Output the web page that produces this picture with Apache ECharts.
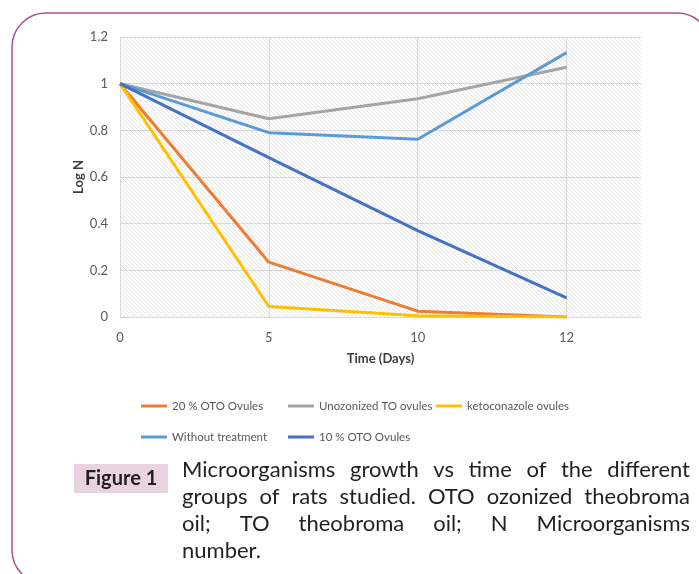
<!DOCTYPE html>
<html><head><meta charset="utf-8">
<script src="https://cdn.jsdelivr.net/npm/echarts@6/dist/echarts.min.js"></script>
<style>html,body{margin:0;padding:0;background:#fff;} #c{width:699px;height:574px;}</style>
</head><body><div id="c"></div>
<script>
// ---- data ----
const days = ['0', '5', '10', '12'];
const yTicks = [0, 0.2, 0.4, 0.6, 0.8, 1, 1.2];
const oto20 = [1, 0.235, 0.025, 0];
const unozonized = [1, 0.85, 0.935, 1.07];
const keto = [1, 0.045, 0.005, 0];
const withoutTreatment = [1, 0.79, 0.762, 1.133];
const oto10 = [1, 0.683, 0.37, 0.082];
const seriesNames = ['20 % OTO Ovules', 'Unozonized TO ovules', 'ketoconazole ovules', 'Without treatment', '10 % OTO Ovules'];
const captionLines = [
  'Microorganisms growth vs time of the different',
  'groups of rats studied. OTO ozonized theobroma',
  'oil; TO theobroma oil; N Microorganisms',
  'number.'
];

// ---- styles ----
const colors = ['#ED7D31', '#A5A5A5', '#FFC000', '#5B9BD5', '#4472C4'];
const FONT = 'Lato, "Open Sans", sans-serif';
const seriesData = [oto20, unozonized, keto, withoutTreatment, oto10];

// hatch pattern
const pat = document.createElement('canvas');
pat.width = 4; pat.height = 4;
const pctx = pat.getContext('2d');
pctx.fillStyle = '#ffffff'; pctx.fillRect(0, 0, 4, 4);
pctx.strokeStyle = '#dedede'; pctx.lineWidth = 0.8;
for (const k of [-4, 0, 4]) { pctx.beginPath(); pctx.moveTo(k, 0); pctx.lineTo(k + 4, 4); pctx.stroke(); }

// legends
const legPos = [[141, 407], [288, 407], [436, 407], [141, 438], [288, 438]];
const legends = seriesNames.map((n, i) => ({
  data: [n], left: legPos[i][0], top: legPos[i][1] - 7, padding: 0,
  icon: 'rect', itemWidth: 26, itemHeight: 3,
  textStyle: { color: '#595959', fontSize: 11.5, fontFamily: FONT }
}));

// caption (justified)
const capFont = '22px Lato';
const mctx = document.createElement('canvas').getContext('2d');
mctx.font = capFont;
const capLeft = 182, capRight = 690, capY = [470, 497, 524, 551];
const graphics = [
  { type: 'rect', shape: { x: 12, y: 13, width: 699, height: 571, r: 34 }, style: { fill: 'none', stroke: '#a94f8b', lineWidth: 1.5 }, silent: true },
  { type: 'rect', shape: { x: 74, y: 464, width: 94, height: 29 }, style: { fill: '#e8d3df' }, silent: true },
  { type: 'text', x: 121, y: 479, style: { text: 'Figure 1', font: 'bold 20px Lato', fill: '#231f20', textAlign: 'center', textVerticalAlign: 'middle' }, silent: true }
];
captionLines.forEach((line, li) => {
  const words = line.split(' ');
  const last = li === captionLines.length - 1;
  if (last) {
    graphics.push({ type: 'text', x: capLeft, y: capY[li], style: { text: line, font: capFont, fill: '#231f20', textVerticalAlign: 'middle' }, silent: true });
    return;
  }
  const widths = words.map(w => mctx.measureText(w).width);
  const total = widths.reduce((a, b) => a + b, 0);
  const gap = (capRight - capLeft - total) / (words.length - 1);
  let x = capLeft;
  words.forEach((w, wi) => {
    graphics.push({ type: 'text', x: x, y: capY[li], style: { text: w, font: capFont, fill: '#231f20', textVerticalAlign: 'middle' }, silent: true });
    x += widths[wi] + gap;
  });
});

const chart = echarts.init(document.getElementById('c'), null, { renderer: 'canvas' });
chart.setOption({
  animation: false,
  backgroundColor: '#fff',
  color: colors,
  grid: {
    left: 120, top: 37, right: 58, bottom: 257, show: true,
    backgroundColor: { image: pat, repeat: 'repeat' }, borderWidth: 0
  },
  legend: legends,
  xAxis: {
    type: 'value', min: 0, max: 3.5, interval: 1,
    axisLine: { show: false }, axisTick: { show: false },
    axisLabel: { color: '#595959', fontSize: 13, fontFamily: FONT, margin: 14,
      formatter: v => Number.isInteger(v) ? days[v] : '' },
    splitLine: { show: true, showMaxLine: false, lineStyle: { color: '#d9d9d9', width: 1 } },
    name: 'Time (Days)', nameLocation: 'middle', nameGap: 35, nameMoveOverlap: false,
    nameTextStyle: { color: '#404040', fontSize: 13, fontWeight: 'bold', fontFamily: FONT }
  },
  yAxis: {
    type: 'value', min: yTicks[0], max: yTicks[yTicks.length - 1], interval: 0.2,
    axisLine: { show: false }, axisTick: { show: false },
    axisLabel: { color: '#595959', fontSize: 13, fontFamily: FONT, margin: 12,
      formatter: v => String(+v.toFixed(1)) },
    splitLine: { show: true, lineStyle: { color: '#d9d9d9', width: 1 } },
    name: 'Log N', nameLocation: 'middle', nameGap: 35, nameMoveOverlap: false,
    nameTextStyle: { color: '#404040', fontSize: 13, fontWeight: 'bold', fontFamily: FONT }
  },
  series: seriesNames.map((n, i) => ({
    name: n, type: 'line', symbol: 'none',
    lineStyle: { width: 3, color: colors[i] }, itemStyle: { color: colors[i] },
    data: seriesData[i].map((v, j) => [j, v])
  })),
  graphic: graphics
});
</script>
</body></html>
